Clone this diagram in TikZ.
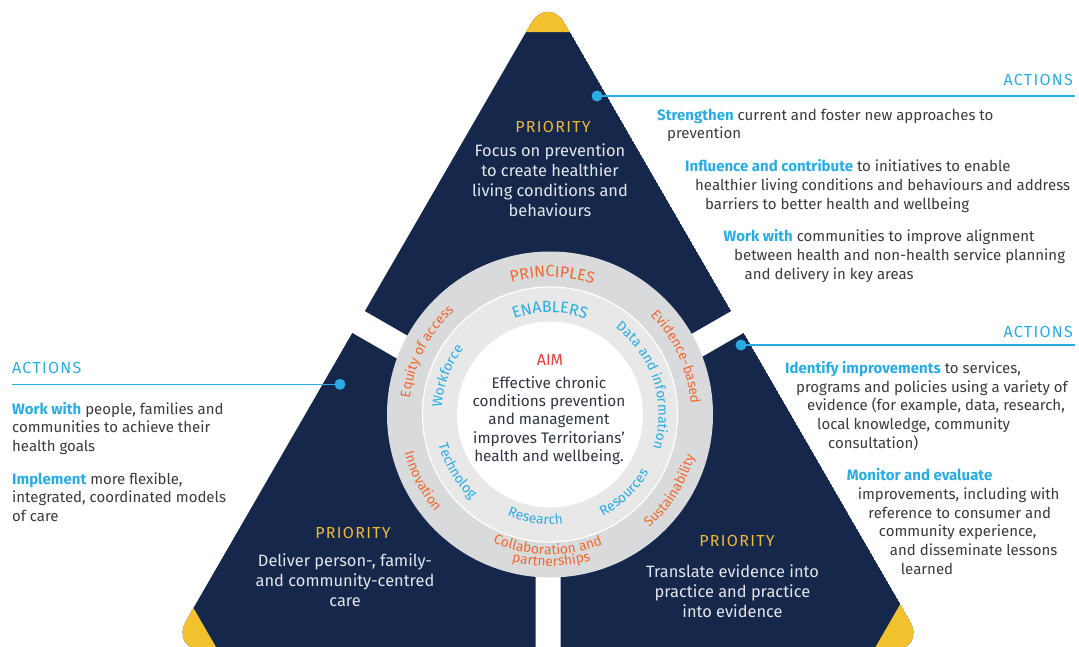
\documentclass[tikz,border=0pt]{standalone}
\usepackage{fontspec}
\setmainfont{Fira Sans}
\usetikzlibrary{calc,decorations.text}

\definecolor{navy}{HTML}{15284C}
\definecolor{capgold}{HTML}{F2C12E}
\definecolor{prigold}{HTML}{E9B93A}
\definecolor{actblue}{HTML}{2AACE2}
\definecolor{prinorange}{HTML}{F0692F}
\definecolor{aimred}{HTML}{E5403D}
\definecolor{bodygrey}{HTML}{3A3A3A}
\definecolor{aimink}{HTML}{2F3542}
\definecolor{paleink}{HTML}{E3E5EA}
\definecolor{ringgrey}{HTML}{D9DADB}
\definecolor{ringpale}{HTML}{E7E8E7}

% blue lead-in words of each action
\newcommand{\kw}[1]{{\color{actblue}\bfseries #1}}
% spaced capitals for the headings
\newcommand{\spaced}{\addfontfeatures{LetterSpace=8}}
% fonts for the curved ring labels
\newcommand{\prinfmt}{\color{prinorange}\fontsize{16}{16}\selectfont\addfontfeatures{LetterSpace=9}}
\newcommand{\outfmt}{\color{prinorange}\fontsize{13.8}{13.8}\selectfont}
\newcommand{\enabfmt}{\color{actblue}\fontsize{16}{16}\selectfont\addfontfeatures{LetterSpace=8}}
\newcommand{\infmt}{\color{actblue}\fontsize{13.8}{13.8}\selectfont}
% curved labels: #1 radius, #2 mid angle, #3 format, #4 text
\newcommand{\ringcw}[4]{%
  \path[decorate, decoration={text along path, text align=center, text={|#3|#4}}]
    (hub) ++({#2+75}:#1) arc[start angle={#2+75}, end angle={#2-75}, radius=#1];}
\newcommand{\ringccw}[4]{%
  \path[decorate, decoration={text along path, text align=center, text={|#3|#4}}]
    (hub) ++({#2-75}:#1) arc[start angle={#2-75}, end angle={#2+75}, radius=#1];}

% multi-line nodes sit on the baseline of their last line
\tikzset{
  act/.style={font=\fontsize{15}{18.8}\selectfont, text=bodygrey, align=left, anchor=base west, inner sep=0pt},
  acthead/.style={font=\fontsize{16}{16}\selectfont\spaced, text=actblue, inner sep=0pt},
  actline/.style={actblue, line width=1.5pt},
  dot/.style={circle, fill=actblue, inner sep=0pt, minimum size=11pt},
  prihead/.style={font=\fontsize{16}{16}\selectfont\spaced, text=prigold, anchor=base, inner sep=0pt},
  pri/.style={font=\fontsize{16.4}{20}\selectfont, text=paleink, align=center, anchor=base, inner sep=0pt},
  gap/.style={white, line width=25pt},
}

\begin{document}
\begin{tikzpicture}[x=1pt, y=1pt]
  \useasboundingbox (0,0) rectangle (1079,-646);

  % big triangle, cut in three by the gaps
  \coordinate (A) at (548,6);
  \coordinate (B) at (169.2,-650);
  \coordinate (C) at (926.8,-650);
  \coordinate (G) at (548,-431);
  \begin{scope}
    \clip[rounded corners=35pt] (A) -- (B) -- (C) -- cycle;
    \fill[navy] (A) -- (B) -- (C) -- cycle;
    \fill[capgold] (A) -- ($(A)!43.9pt!(B)$) -- ($(A)!43.9pt!(C)$) -- cycle;
    \fill[capgold] (B) -- ($(B)!48.5pt!(A)$) -- ($(B)!48.5pt!(C)$) -- cycle;
    \fill[capgold] (C) -- ($(C)!53pt!(A)$) -- ($(C)!53pt!(B)$) -- cycle;
  \end{scope}
  \draw[gap] (G) -- ($(G)!1.3!($(A)!0.5!(B)$)$);
  \draw[gap] (G) -- ($(G)!1.3!($(A)!0.5!(C)$)$);
  \draw[gap] (G) -- ($(G)!1.3!($(B)!0.5!(C)$)$);

  % rings
  \coordinate (hub) at (550,-414.5);
  \fill[ringgrey] (hub) circle (163);
  \filldraw[fill=ringpale, draw=white, line width=1.2pt] (hub) circle (127.5);
  \fill[white] (hub) circle (93);

  % principles (outer ring)
  \ringcw{137.5}{89}{\prinfmt}{PRINCIPLES}
  \ringcw{141}{153}{\outfmt}{Equity of access}
  \ringcw{141}{24.5}{\outfmt}{Evidence-based}
  \ringccw{150.5}{207.5}{\outfmt}{Innovation}
  \ringccw{150.5}{-32.5}{\outfmt}{Sustainability}
  \ringccw{140}{269}{\outfmt}{Collaboration and}
  \ringccw{151.5}{270.5}{\outfmt}{partnerships}
  % enablers (inner ring)
  \ringcw{102}{90}{\enabfmt}{ENABLERS}
  \ringcw{108.5}{159.5}{\infmt}{Workforce}
  \ringcw{108.5}{17.5}{\infmt}{Data and information}
  \ringccw{115.5}{211}{\infmt}{Technolog}
  \ringccw{110}{262}{\infmt}{Research}
  \ringccw{114.5}{-46.5}{\infmt}{Resources}

  % aim
  \node[font=\fontsize{16}{16}\selectfont, text=aimred, anchor=base, inner sep=0pt] (aim) at (550,-365) {AIM};
  \node[font=\fontsize{15.3}{18.3}\selectfont, text=aimink, align=center, anchor=base, inner sep=0pt] (aimtext) at (549,-461.5)
    {Effective chronic\\conditions prevention\\and management\\improves Territorians'\\health and wellbeing.};

  % priorities
  \node[prihead] (p1head) at (553,-132.3) {PRIORITY};
  \node[pri] (p1) at (550,-216.7) {Focus on prevention\\to create healthier\\living conditions and\\behaviours};
  \node[prihead] (p2head) at (353,-538.5) {PRIORITY};
  \node[pri] (p2) at (345,-606.5) {Deliver person-, family-\\and community-centred\\care};
  \node[prihead] (p3head) at (737,-546.5) {PRIORITY};
  \node[pri] (p3) at (732.5,-617.3) {Translate evidence into\\practice and practice\\into evidence};

  % actions, top
  \node[dot] (d1) at (597,-96) {};
  \coordinate (e1) at (1075,-96);
  \draw[actline] (d1.center) -- (e1);
  \node[acthead, anchor=base east] (h1) at (1073,-85) {ACTIONS};
  \node[act] (s1) at (657,-138.8) {\kw{Strengthen} current and foster new approaches to\\\hspace*{10pt}prevention};
  \node[act] (s2) at (685,-209.3) {\kw{Influence and contribute} to initiatives to enable\\\hspace*{10pt}healthier living conditions and behaviours and address\\\hspace*{20pt}barriers to better health and wellbeing};
  \node[act] (s3) at (723.5,-279.3) {\kw{Work with} communities to improve alignment\\\hspace*{10.5pt}between health and non-health service planning\\\hspace*{21pt}and delivery in key areas};

  % actions, right
  \node[dot] (d2) at (741,-345) {};
  \coordinate (e2) at (1075,-345);
  \draw[actline] (d2.center) -- (e2);
  \node[acthead, anchor=base east] (h2) at (1073,-337) {ACTIONS};
  \node[act] (r1) at (785,-448.5) {\kw{Identify improvements} to services,\\\hspace*{11pt}programs and policies using a variety of\\\hspace*{22pt}evidence (for example, data, research,\\\hspace*{32pt}local knowledge, community\\\hspace*{43pt}consultation)};
  \node[act] (r2) at (846.7,-574.5) {\kw{Monitor and evaluate}\\\hspace*{11pt}improvements, including with\\\hspace*{21.5pt}reference to consumer and\\\hspace*{32pt}community experience,\\\hspace*{43pt}and disseminate lessons\\\hspace*{54pt}learned};

  % actions, left
  \node[dot] (d3) at (340,-384.3) {};
  \coordinate (e3) at (12,-384.3);
  \draw[actline] (e3) -- (d3.center);
  \node[acthead, anchor=base west] (h3) at (12,-373.3) {ACTIONS};
  \node[act] (l1) at (12,-451.6) {\kw{Work with} people, families and\\communities to achieve their\\health goals};
  \node[act] (l2) at (12,-521.6) {\kw{Implement} more flexible,\\integrated, coordinated models\\of care};
\end{tikzpicture}
\end{document}
